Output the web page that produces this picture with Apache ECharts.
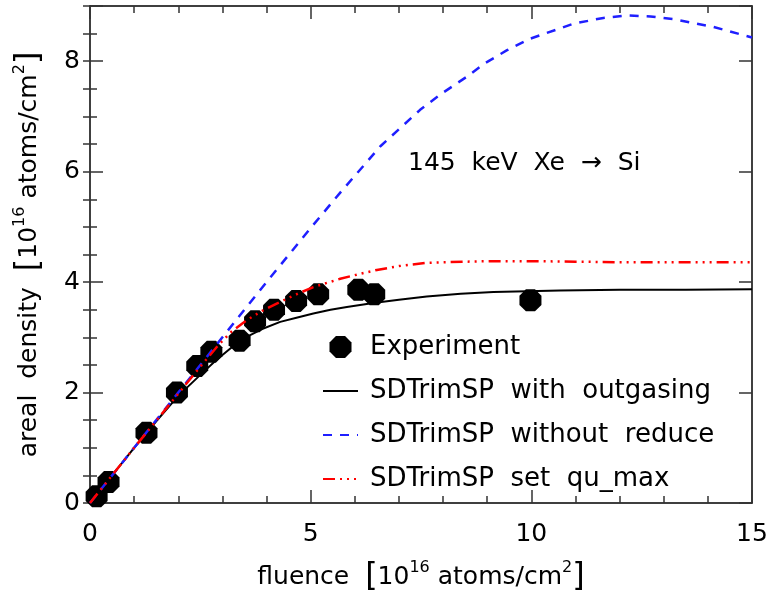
<!DOCTYPE html>
<html><head><meta charset="utf-8">
<script src="https://cdn.jsdelivr.net/npm/echarts@6/dist/echarts.min.js"></script>
<style>html,body{margin:0;padding:0;background:#fff}#c{width:771px;height:598px}</style>
</head><body><div id="c"></div>
<script>
// Experiment points
const expX = [0.15, 0.42, 1.28, 1.97, 2.43, 2.75, 3.39, 3.74, 4.17, 4.67, 5.17, 6.08, 6.44, 9.98];
const expY = [0.12, 0.38, 1.27, 2.0, 2.48, 2.74, 2.94, 3.29, 3.5, 3.66, 3.78, 3.86, 3.78, 3.67];
// SDTrimSP with outgasing
const outX = [0, 0.5, 1, 1.5, 2, 2.5, 2.85, 3.2, 3.55, 3.9, 4.31, 4.7, 5.06, 5.45, 5.82, 6.42, 7.0, 7.63, 8.4, 9.14, 10.65, 12, 13.5, 15];
const outY = [0, 0.5, 1, 1.48, 1.94, 2.32, 2.58, 2.81, 3.01, 3.15, 3.28, 3.36, 3.43, 3.5, 3.55, 3.62, 3.68, 3.74, 3.79, 3.82, 3.85, 3.86, 3.86, 3.87];
// SDTrimSP without reduce
const redX = [0, 1, 2, 3, 4, 5, 5.67, 6.58, 7.48, 7.94, 8.54, 8.92, 9.45, 9.98, 10.96, 11.6, 12.17, 12.7, 13.23, 14.13, 15];
const redY = [0, 1, 2, 3, 4, 4.98, 5.62, 6.46, 7.12, 7.4, 7.72, 7.95, 8.2, 8.41, 8.68, 8.78, 8.83, 8.81, 8.76, 8.62, 8.43];
// SDTrimSP set qu_max
const quX = [0, 1, 2, 2.5, 2.91, 3.2, 3.55, 3.9, 4.23, 4.65, 5.06, 5.67, 6.12, 6.5, 7.0, 7.63, 8.5, 9.14, 10, 11, 12, 13, 14, 15];
const quY = [0, 1, 1.98, 2.47, 2.86, 3.1, 3.31, 3.48, 3.61, 3.77, 3.91, 4.06, 4.15, 4.22, 4.29, 4.35, 4.37, 4.38, 4.38, 4.37, 4.36, 4.36, 4.36, 4.36];
const seriesNames = ['Experiment', 'SDTrimSP  with  outgasing', 'SDTrimSP  without  reduce', 'SDTrimSP  set  qu_max'];
const xTicks = [0, 5, 10, 15];
const yTicks = [0, 2, 4, 6, 8];
const annotation = '145  keV  Xe  \u2192  Si';

const zip = (a, b) => a.map((v, i) => [v, b[i]]);
const FONT = '"DejaVu Sans", sans-serif';
const octagon = 'path://M0.293,0 L0.707,0 L1,0.293 L1,0.707 L0.707,1 L0.293,1 L0,0.707 L0,0.293 Z';

const nameRich = {
  n: {fontSize: 25, fontFamily: FONT, color: '#000', lineHeight: 34},
  b: {fontSize: 32, fontFamily: FONT, color: '#000', lineHeight: 34},
  s: {fontSize: 16, fontFamily: FONT, color: '#000', lineHeight: 16, verticalAlign: 'top'}
};

const chart = echarts.init(document.getElementById('c'), null, {renderer: 'canvas'});
const majorTick = {show: true, inside: true, length: 13, lineStyle: {color: '#333', width: 1.5}};
const minorTickStyle = {show: true, length: 7, lineStyle: {color: '#333', width: 1.5}};
const axisLine = {show: true, onZero: false, lineStyle: {color: '#000', width: 1.5}};
const yBase = {type: 'value', min: 0, max: 9, splitLine: {show: false}};
const hidden = {opacity: 0, borderWidth: 0};

chart.setOption({
  animation: false,
  backgroundColor: '#fff',
  grid: {left: 90, right: 19, top: 6, bottom: 91, containLabel: false},
  xAxis: [
    {type: 'value', position: 'bottom', min: 0, max: 15, interval: 5,
     axisLine, axisTick: majorTick,
     minorTick: Object.assign({splitNumber: 5}, minorTickStyle),
     splitLine: {show: false},
     axisLabel: {margin: 19, fontSize: 25, fontFamily: FONT, color: '#000',
       formatter: v => xTicks.includes(v) ? String(v) : ''},
     name: '{n|fluence  }{b|[}{n|10}{s|16}{n| atoms/cm}{s|2}{b|]}',
     nameLocation: 'middle', nameGap: 57,
     nameTextStyle: {rich: nameRich}},
    {type: 'value', position: 'top', min: 0, max: 15, interval: 5,
     axisLine, axisTick: majorTick,
     minorTick: Object.assign({splitNumber: 5}, minorTickStyle),
     splitLine: {show: false}, axisLabel: {show: false}}
  ],
  yAxis: [
    Object.assign({}, yBase, {position: 'left', interval: 2, axisLine, axisTick: majorTick,
      axisLabel: {margin: 10, fontSize: 25, fontFamily: FONT, color: '#000',
        formatter: v => yTicks.includes(v) ? String(v) : ''},
      name: '{n|areal  density  }{b|[}{n|10}{s|16}{n| atoms/cm}{s|2}{b|]}',
      nameLocation: 'middle', nameGap: 44, nameRotate: 90,
      nameTextStyle: {rich: nameRich}}),
    Object.assign({}, yBase, {position: 'left', interval: 0.5, axisLine: {show: false},
      axisTick: {show: true, inside: true, length: 7, lineStyle: {color: '#333', width: 1.5}},
      axisLabel: {show: false}}),
    Object.assign({}, yBase, {position: 'right', interval: 2, axisLine, axisTick: majorTick,
      axisLabel: {show: false}}),
    Object.assign({}, yBase, {position: 'right', interval: 0.5, axisLine: {show: false},
      axisTick: {show: true, inside: true, length: 7, lineStyle: {color: '#333', width: 1.5}},
      axisLabel: {show: false}})
  ],
  legend: {
    show: true, orient: 'vertical', left: 317, top: 329,
    itemWidth: 35, itemHeight: 22, itemGap: 18,
    data: [
      {name: seriesNames[0]},
      {name: seriesNames[1], itemStyle: hidden},
      {name: seriesNames[2], itemStyle: hidden},
      {name: seriesNames[3], itemStyle: hidden}
    ],
    textStyle: {fontSize: 26, fontFamily: FONT, color: '#000', padding: [0, 0, 0, 7]}
  },
  graphic: [{
    type: 'text', x: 408, y: 163,
    style: {text: annotation, font: '25px "DejaVu Sans", sans-serif', fill: '#000', verticalAlign: 'middle'}
  }],
  series: [
    {name: seriesNames[0], type: 'scatter', data: zip(expX, expY), symbol: octagon, symbolSize: 22,
     itemStyle: {color: '#000', opacity: 1}, z: 2},
    {name: seriesNames[1], type: 'line', data: zip(outX, outY), showSymbol: false,
     smooth: false, lineStyle: {color: '#000', width: 2, type: 'solid'}, itemStyle: {color: '#000', opacity: 0}, z: 3},
    {name: seriesNames[2], type: 'line', data: zip(redX, redY), showSymbol: false,
     smooth: false, lineStyle: {color: '#1f1fff', width: 2.5, type: [9, 8]}, itemStyle: {color: '#1f1fff', opacity: 0}, z: 4},
    {name: seriesNames[3], type: 'line', data: zip(quX, quY), showSymbol: false,
     smooth: false, lineStyle: {color: '#ff0000', width: 2.5, type: [12, 5, 2, 5, 2, 5, 2, 5]}, itemStyle: {color: '#ff0000', opacity: 0}, z: 5}
  ]
});
</script>
</body></html>
